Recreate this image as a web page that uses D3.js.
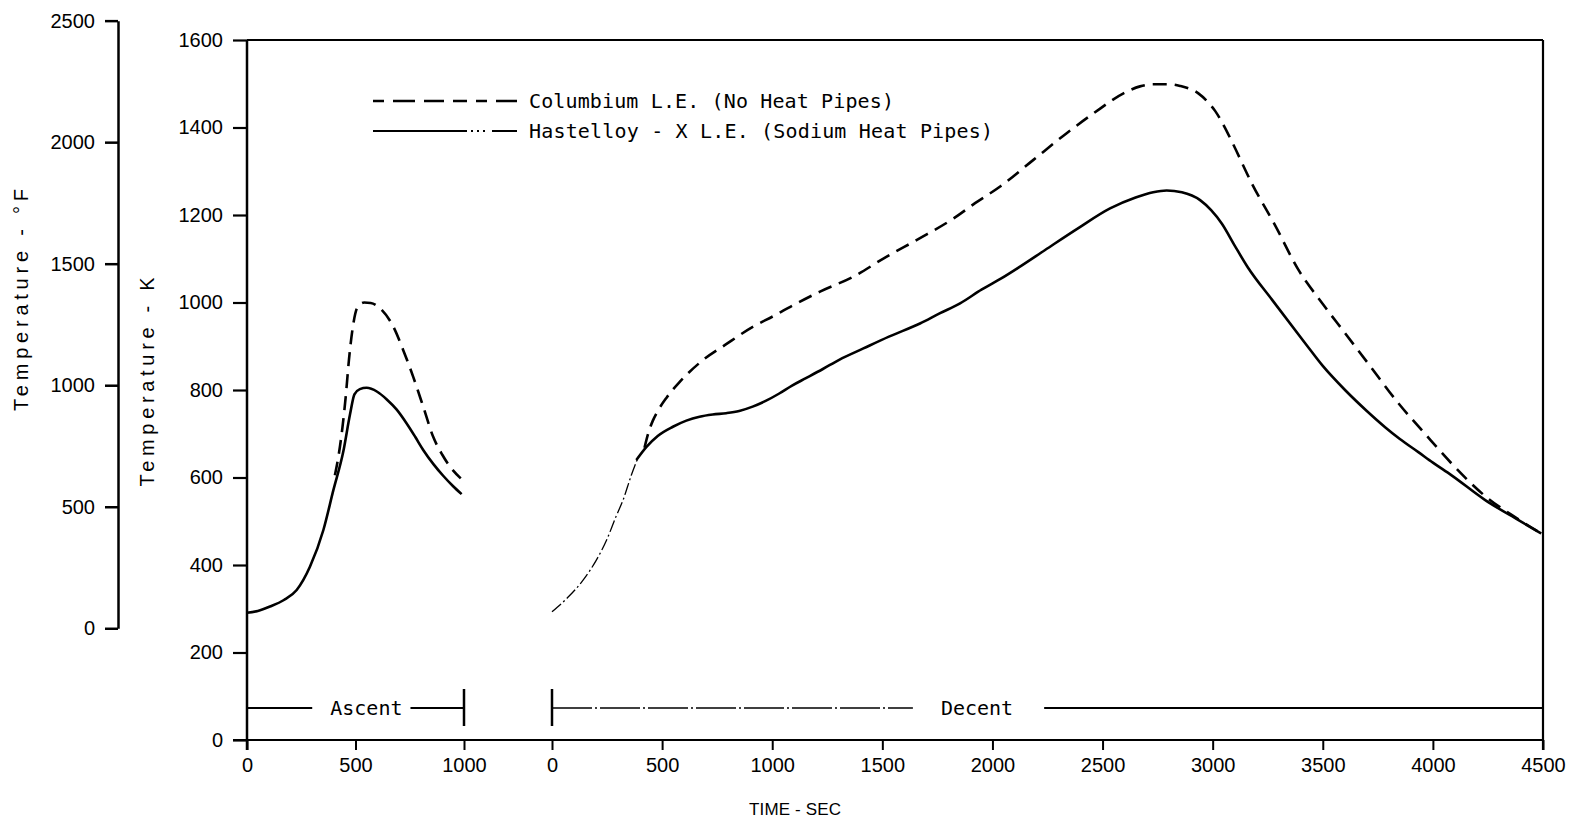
<!DOCTYPE html>
<html>
<head>
<meta charset="utf-8">
<script src="https://cdn.jsdelivr.net/npm/d3@7"></script>
<style>
  body { margin: 0; background: #fff; }
  svg { display: block; }
  .tick text { font-family: "Liberation Sans", Arial, sans-serif; font-size: 20px; fill: #000; }
</style>
</head>
<body>
<div id="plot-container"></div>
<script>
// Data: [time (sec), temperature (K)]
const kTicks = [0, 200, 400, 600, 800, 1000, 1200, 1400, 1600];
const fTicks = [0, 500, 1000, 1500, 2000, 2500];
const ascentTicks = [0, 500, 1000];
const descentTicks = [0, 500, 1000, 1500, 2000, 2500, 3000, 3500, 4000, 4500];

const ascentHastelloy = [
    [0, 291], [50, 295], [106, 305], [170, 320], [229, 343], [290, 396], [352, 480],
    [398, 571], [444, 660], [475, 745], [495, 790], [520, 802], [551, 805], [600, 796],
    [643, 779], [690, 755], [735, 724], [775, 693], [812, 663], [860, 630], [904, 604],
    [950, 580], [989, 562]
];
const ascentColumbium = [
    [405, 605], [422, 650], [440, 715], [455, 785], [470, 870], [488, 945], [508, 988],
    [540, 1000], [570, 999], [613, 987], [674, 945], [720, 891], [766, 830], [812, 762],
    [858, 693], [900, 652], [940, 622], [985, 598]
];
const descentCommon = [
    [0, 293], [70, 325], [142, 366], [200, 410], [248, 457], [290, 510], [323, 549],
    [360, 605], [390, 645]
];
const descentHastelloy = [
    [383, 640], [429, 670], [480, 695], [549, 716], [610, 730], [670, 739], [730, 744],
    [791, 747], [850, 752], [911, 762], [970, 775], [1032, 792], [1090, 810], [1153, 827],
    [1230, 848], [1304, 869], [1414, 895], [1530, 922], [1671, 952], [1760, 975],
    [1853, 998], [1952, 1030], [2040, 1055], [2125, 1082], [2239, 1120], [2390, 1170],
    [2534, 1215], [2650, 1240], [2730, 1252], [2791, 1256], [2860, 1252], [2943, 1234],
    [2993, 1211], [3042, 1180], [3100, 1130], [3160, 1080], [3270, 1006], [3420, 907],
    [3500, 855], [3601, 800], [3700, 752], [3783, 715], [3850, 688], [3934, 658],
    [4000, 634], [4085, 605], [4236, 549], [4387, 503], [4492, 472]
];
const descentColumbium = [
    [420, 668], [437, 701], [458, 730], [478, 750], [521, 783], [581, 819], [687, 869],
    [786, 903], [914, 945], [1002, 968], [1100, 995], [1217, 1025], [1368, 1059],
    [1520, 1105], [1671, 1147], [1823, 1192], [1921, 1227], [2035, 1265], [2186, 1326],
    [2337, 1387], [2458, 1432], [2595, 1478], [2670, 1494], [2731, 1499], [2800, 1499],
    [2852, 1495], [2935, 1478], [2975, 1460], [3011, 1438], [3050, 1405], [3090, 1365],
    [3178, 1272], [3283, 1177], [3389, 1075], [3495, 1000], [3601, 930], [3707, 860],
    [3843, 770], [3964, 700], [4085, 632], [4236, 558], [4387, 505], [4492, 472]
];

const legendLabels = ['Columbium L.E. (No Heat Pipes)', 'Hastelloy - X L.E. (Sodium Heat Pipes)'];

// Set up the svg
const width = 1579, height = 826;
const svg = d3.select('#plot-container')
    .append('svg')
    .attr('width', width)
    .attr('height', height);

// Scales
const yK = d3.scaleLinear().domain([0, 1600]).range([740, 40]);
const kOfF = (f) => (f + 459.67) / 1.8;
const yF = d3.scaleLinear().domain([0, 2500]).range([yK(kOfF(0)), yK(kOfF(2500))]);
const xAsc = d3.scaleLinear().domain([0, 1000]).range([247, 464]);
const xDes = d3.scaleLinear().domain([0, 4500]).range([552, 1543]);

const ink = '#000';
const mono = '"DejaVu Sans Mono", "Liberation Mono", monospace';
const sans = '"Liberation Sans", Arial, sans-serif';
const fmt = d3.format('d');

// Frame: top and right border, bottom axis line
svg.append('line')
    .attr('x1', xAsc(0)).attr('x2', xDes(4500))
    .attr('y1', yK(1600)).attr('y2', yK(1600))
    .attr('stroke', ink).attr('stroke-width', 2.2);
svg.append('line')
    .attr('x1', xDes(4500)).attr('x2', xDes(4500))
    .attr('y1', yK(1600)).attr('y2', yK(0) + 10)
    .attr('stroke', ink).attr('stroke-width', 2.2);
svg.append('line')
    .attr('x1', xAsc(0) - 14).attr('x2', xDes(4500))
    .attr('y1', yK(0)).attr('y2', yK(0))
    .attr('stroke', ink).attr('stroke-width', 2.2);
svg.append('line')
    .attr('x1', xAsc(0)).attr('x2', xAsc(0))
    .attr('y1', yK(1600)).attr('y2', yK(0) + 10)
    .attr('stroke', ink).attr('stroke-width', 2.5);

// K axis
const kAxis = svg.append('g')
    .attr('transform', `translate(${xAsc(0)},0)`)
    .call(d3.axisLeft(yK).tickValues(kTicks).tickFormat(fmt)
        .tickSize(14).tickSizeOuter(0).tickPadding(10));
kAxis.select('.domain').remove();
kAxis.selectAll('.tick line').attr('stroke', ink).attr('stroke-width', 2.2);

// °F axis
const fAxis = svg.append('g')
    .attr('transform', 'translate(118,0)')
    .call(d3.axisLeft(yF).tickValues(fTicks).tickFormat(fmt)
        .tickSize(13).tickSizeOuter(0).tickPadding(10));
fAxis.select('.domain').attr('stroke', ink).attr('stroke-width', 2.5);
fAxis.selectAll('.tick line').attr('stroke', ink).attr('stroke-width', 2.5);

// Time axes (ascent and descent)
[[xAsc, ascentTicks], [xDes, descentTicks]].forEach(([sc, tv]) => {
    const g = svg.append('g')
        .attr('transform', `translate(0,${yK(0)})`)
        .call(d3.axisBottom(sc).tickValues(tv).tickFormat(fmt)
            .tickSize(10).tickSizeOuter(0).tickPadding(8));
    g.select('.domain').remove();
    g.selectAll('.tick line').attr('stroke', ink).attr('stroke-width', 2);
});

// Axis titles
svg.append('text')
    .attr('transform', 'translate(28,300) rotate(-90)')
    .attr('text-anchor', 'middle')
    .attr('font-family', sans).attr('font-size', 20)
    .attr('textLength', 222).attr('lengthAdjust', 'spacing')
    .text('Temperature - °F');
svg.append('text')
    .attr('transform', 'translate(154,382) rotate(-90)')
    .attr('text-anchor', 'middle')
    .attr('font-family', sans).attr('font-size', 20)
    .attr('textLength', 209).attr('lengthAdjust', 'spacing')
    .text('Temperature - K');
svg.append('text')
    .attr('x', 795).attr('y', 815)
    .attr('text-anchor', 'middle')
    .attr('font-family', sans).attr('font-size', 17)
    .attr('textLength', 92).attr('lengthAdjust', 'spacing')
    .text('TIME - SEC');

// Curves
const line = (sc) => d3.line()
    .x((d) => sc(d[0]))
    .y((d) => yK(d[1]))
    .curve(d3.curveMonotoneX);

function drawCurve(data, sc, dash, w) {
    svg.append('path')
        .datum(data)
        .attr('d', line(sc))
        .attr('fill', 'none')
        .attr('stroke', ink)
        .attr('stroke-width', w)
        .attr('stroke-linecap', 'butt')
        .attr('stroke-dasharray', dash);
}
drawCurve(ascentHastelloy, xAsc, null, 2.6);
drawCurve(ascentColumbium, xAsc, '14,8', 2.6);
drawCurve(descentCommon, xDes, '12,3,2,3', 1.3);
drawCurve(descentHastelloy, xDes, null, 2.6);
drawCurve(descentColumbium, xDes, '14,8', 2.6);

// Legend
svg.append('line')
    .attr('x1', 373).attr('x2', 517).attr('y1', 101).attr('y2', 101)
    .attr('stroke', ink).attr('stroke-width', 2.4).attr('stroke-dasharray', '11,9,22,9,20,9,14,9');
svg.append('line')
    .attr('x1', 373).attr('x2', 517).attr('y1', 131).attr('y2', 131)
    .attr('stroke', ink).attr('stroke-width', 2).attr('stroke-dasharray', '94,4,2,4,2,4,2,7,25');
legendLabels.forEach((t, i) => {
    svg.append('text')
        .attr('x', 529).attr('y', 108 + i * 30)
        .attr('font-family', mono).attr('font-size', 20)
        .attr('textLength', [365, 464][i]).attr('lengthAdjust', 'spacing')
        .text(t);
});

// Flight phase markers
const phaseY = 708;
function phase(sc, t0, t1, label, tLabel, gapL, gapR, dash) {
    const txt = svg.append('text')
        .attr('x', sc(tLabel)).attr('y', phaseY + 7)
        .attr('text-anchor', 'middle')
        .attr('font-family', mono).attr('font-size', 20)
        .text(label);
    const bb = txt.node().getBBox();
    svg.append('line')
        .attr('x1', sc(t0)).attr('x2', bb.x - gapL)
        .attr('y1', phaseY).attr('y2', phaseY)
        .attr('stroke', ink).attr('stroke-width', dash ? 1.6 : 2)
        .attr('stroke-dasharray', dash);
    svg.append('line')
        .attr('x1', bb.x + bb.width + gapR).attr('x2', sc(t1))
        .attr('y1', phaseY).attr('y2', phaseY)
        .attr('stroke', ink).attr('stroke-width', 2);
}
phase(xAsc, 0, 1000, 'Ascent', 550, 18, 8, null);
phase(xDes, 0, 4500, 'Decent', 1930, 28, 31, '40,3,2,3');
[xAsc(1000), xDes(0)].forEach((x) => {
    svg.append('line')
        .attr('x1', x).attr('x2', x)
        .attr('y1', 689).attr('y2', 726)
        .attr('stroke', ink).attr('stroke-width', 2.5);
});
</script>
</body>
</html>
